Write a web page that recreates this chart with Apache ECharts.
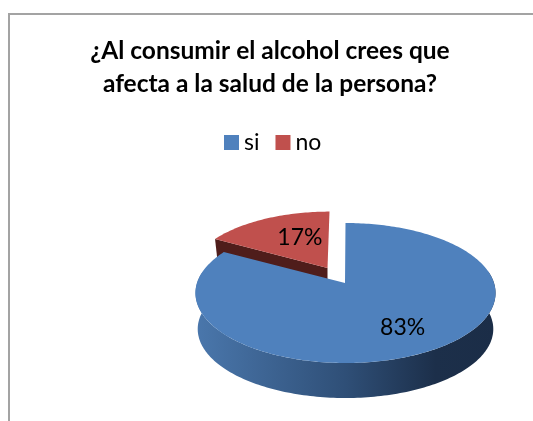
<!DOCTYPE html>
<html>
<head>
<meta charset="utf-8">
<style>
  html, body { margin: 0; padding: 0; background: #fff; }
  #chart { width: 533px; height: 421px; }
</style>
<script src="https://cdn.jsdelivr.net/npm/echarts@6/dist/echarts.min.js"></script>
</head>
<body>
<div id="chart"></div>
<script>
// Survey answers, in percent
const categories = ['si', 'no'];
const answers = [83, 17];
const chartTitle = '¿Al consumir el alcohol crees que\nafecta a la salud de la persona?';

// Tilted-disc projection: k is the perspective strength, a/b the plan scales
const k = 1 / 7, a = 68.57, b = 148.5;

function project(theta, r, slice, lowered) {
  const u = r * Math.sin(theta);
  const v = -r * Math.cos(theta);
  const d = 1 - k * v;
  const s = lowered ? slice.scale * slice.floorScale : slice.scale;
  return [
    slice.cx + s * b * u / d,
    slice.cy + (lowered ? slice.depth : 0) + s * a * v / d
  ];
}

function arcPoints(from, to, r, slice, lowered) {
  const steps = Math.max(2, Math.ceil(Math.abs(to - from) / 0.02));
  const pts = [];
  for (let i = 0; i <= steps; i++) {
    pts.push(project(from + (to - from) * i / steps, r, slice, lowered));
  }
  return pts;
}

const slices = {
  si: {
    cx: 345.5, cy: 283, scale: 1, floorScale: 0.985, depth: 36.2, apexLean: -0.5,
    face: '#4f81bd', labelR: 0.68, labelShift: [1, 1],
    wall: new echarts.graphic.LinearGradient(0, 0, 1, 0, [
      { offset: 0, color: '#4a77ac' },
      { offset: 0.5, color: '#2f4f77' },
      { offset: 0.8, color: '#1c2f4a' },
      { offset: 1, color: '#1b2d47' }
    ])
  },
  no: {
    cx: 329.5, cy: 268, scale: 0.94, floorScale: 0.97, depth: 30, apexLean: -2,
    face: '#c0504d', labelR: 0.55, labelShift: [7, -2], wall: '#4f1d1b'
  }
};

const total = answers.reduce((s, x) => s + x, 0);

function sliceAngles(index) {
  let start = 0;
  for (let i = 0; i < index; i++) start += answers[i];
  return [start / total * 2 * Math.PI, (start + answers[index]) / total * 2 * Math.PI];
}

function renderSlice(index) {
  return function (params, api) {
    const slice = slices[categories[index]];
    const value = api.value(0);
    const [t0, t1] = sliceAngles(index);
    const apex = [slice.cx + slice.apexLean, slice.cy];
    const children = [];

    if (index === 0) {
      // Rim of the disc: only the part turned towards the viewer
      const from = 80 * Math.PI / 180, to = Math.min(t1, 280 * Math.PI / 180);
      const rim = arcPoints(from, to, 1, slice, false)
        .concat(arcPoints(to, from, 1, slice, true));
      children.push({ type: 'polygon', shape: { points: rim }, style: { fill: slice.wall } });
    } else {
      // Cut face along the leading edge of the slice
      const outerTop = project(t0, 1, slice, false);
      const outerLow = project(t0, 1, slice, true);
      const apexLow = [apex[0], apex[1] + slice.depth];
      children.push({
        type: 'polygon',
        shape: { points: [apex, outerTop, outerLow, apexLow] },
        style: { fill: slice.wall }
      });
    }

    children.push({
      type: 'polygon',
      shape: { points: [apex].concat(arcPoints(t0, t1, 1, slice, false)) },
      style: { fill: slice.face }
    });

    const labelAt = project((t0 + t1) / 2, slice.labelR, slice, false);
    children.push({
      type: 'text',
      x: labelAt[0] + slice.labelShift[0],
      y: labelAt[1] + slice.labelShift[1],
      style: {
        text: value + '%',
        fill: '#000',
        font: '23px Lato, "Noto Sans", sans-serif',
        textAlign: 'center',
        textVerticalAlign: 'middle'
      }
    });
    return { type: 'group', children };
  };
}

const chart = echarts.init(document.getElementById('chart'), null, { renderer: 'canvas' });

chart.setOption({
  animation: false,
  backgroundColor: '#fff',
  title: {
    text: chartTitle,
    left: 265,
    top: 30,
    textAlign: 'center',
    textStyle: {
      fontFamily: 'Lato, "Noto Sans", sans-serif',
      fontWeight: 'bold',
      fontSize: 24.5,
      lineHeight: 33,
      color: '#000'
    }
  },
  legend: {
    data: categories,
    left: 224,
    top: 131,
    padding: 0,
    icon: 'rect',
    itemWidth: 15,
    itemHeight: 15,
    itemGap: 16,
    textStyle: {
      fontFamily: 'Lato, "Noto Sans", sans-serif',
      fontSize: 23,
      color: '#000',
      padding: [0, 0, 0, 0]
    }
  },
  graphic: [{
    type: 'polyline',
    shape: { points: [[9, 421], [9, 14], [533, 14]] },
    style: { stroke: '#a3a3a3', lineWidth: 2, fill: null },
    silent: true
  }],
  // The slice nearer the back is painted first so the large one overlaps it
  series: [
    {
      type: 'custom',
      name: categories[1],
      coordinateSystem: 'none',
      itemStyle: { color: slices.no.face },
      data: [[answers[1]]],
      renderItem: renderSlice(1),
      z: 2
    },
    {
      type: 'custom',
      name: categories[0],
      coordinateSystem: 'none',
      itemStyle: { color: slices.si.face },
      data: [[answers[0]]],
      renderItem: renderSlice(0),
      z: 3
    }
  ]
});
</script>
</body>
</html>
